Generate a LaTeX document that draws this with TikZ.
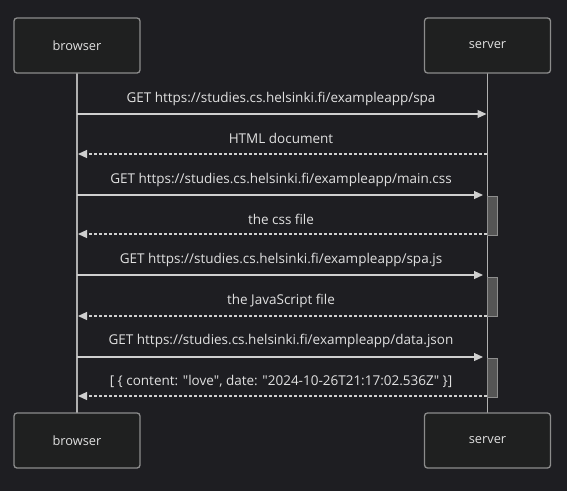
\documentclass[tikz,border=0pt]{standalone}
\usepackage{fontspec}
\setmainfont[Ligatures={TeXOff,CommonOff}]{Open Sans}
\usetikzlibrary{arrows.meta}
\definecolor{bg}{HTML}{1E1E22}
\definecolor{boxfill}{HTML}{1F2020}
\definecolor{boxline}{HTML}{8C8C8C}
\definecolor{ln}{HTML}{CFCFCF}
\definecolor{txt}{HTML}{E0E0E0}
\definecolor{actfill}{HTML}{555555}
\definecolor{actline}{HTML}{8E8E8E}
\begin{document}
\begin{tikzpicture}[x=1pt,y=-1pt,
  actor/.style={draw=boxline,fill=boxfill,line width=1.3pt,rounded corners=3pt,
    minimum width=126pt,minimum height=55pt,inner sep=0pt,text=txt,font=\fontsize{12.8}{15}\selectfont},
  life/.style={draw=ln!85!black,line width=1.2pt},
  act/.style={draw=actline,fill=actfill,line width=1pt,minimum width=10pt,inner sep=0pt},
  req/.style={draw=ln,line width=1.2pt,-{Triangle[length=9pt,width=8pt]}},
  resp/.style={draw=ln,line width=1.2pt,dash pattern=on 2.5pt off 2.5pt,-{Triangle[length=9pt,width=8pt]}},
  lbl/.style={text=txt,font=\fontsize{13.5}{15}\selectfont,inner sep=0pt}]
\fill[bg] (0,0) rectangle (567,491);
\useasboundingbox (0,0) rectangle (567,491);
% lifelines
\coordinate (btop) at (77,73);
\coordinate (bbot) at (77,413);
\coordinate (stop) at (487.5,73);
\coordinate (sbot) at (487.5,413);
\draw[life] (btop) -- (bbot);
\draw[life] (stop) -- (sbot);
% actors
\node[actor] (b1) at (77,45.5) {browser};
\node[actor] (s1) at (487.5,45.5) {server};
\node[actor] (b2) at (77,440.5) {browser};
\node[actor] (s2) at (487.5,440.5) {server};
% activations
\node[act,minimum height=39pt,anchor=north west] (a1) at (487,196) {};
\node[act,minimum height=39pt,anchor=north west] (a2) at (487,277) {};
\node[act,minimum height=39pt,anchor=north west] (a3) at (487,358) {};
% endpoints
\coordinate (p1b) at (77,114); \coordinate (p1s) at (486.5,114);
\coordinate (p2b) at (78,154); \coordinate (p2s) at (486.5,154);
\coordinate (p3b) at (77,195); \coordinate (p3s) at (483,195);
\coordinate (p4b) at (78,234); \coordinate (p4s) at (486.5,234);
\coordinate (p5b) at (77,275); \coordinate (p5s) at (483,275);
\coordinate (p6b) at (78,316); \coordinate (p6s) at (486.5,316);
\coordinate (p7b) at (77,357); \coordinate (p7s) at (483,357);
\coordinate (p8b) at (78,396); \coordinate (p8s) at (486.5,396);
\draw[req] (p1b) -- (p1s);
\draw[resp] (p2s) -- (p2b);
\draw[req] (p3b) -- (p3s);
\draw[resp] (p4s) -- (p4b);
\draw[req] (p5b) -- (p5s);
\draw[resp] (p6s) -- (p6b);
\draw[req] (p7b) -- (p7s);
\draw[resp] (p8s) -- (p8b);
% labels
\node[lbl] (l1) at (281,99) {GET https://studies.cs.helsinki.fi/exampleapp/spa};
\node[lbl] (l2) at (281,138.5) {HTML document};
\node[lbl] (l3) at (281,180) {GET https://studies.cs.helsinki.fi/exampleapp/main.css};
\node[lbl] (l4) at (281,219.5) {the css file};
\node[lbl] (l5) at (281,260) {GET https://studies.cs.helsinki.fi/exampleapp/spa.js};
\node[lbl] (l6) at (281,300.5) {the JavaScript file};
\node[lbl] (l7) at (281,341) {GET https://studies.cs.helsinki.fi/exampleapp/data.json};
\node[lbl] (l8) at (281,381) {[ \{ content: "love", date: "2024-10-26T21:17:02.536Z" \}]};
\end{tikzpicture}
\end{document}
